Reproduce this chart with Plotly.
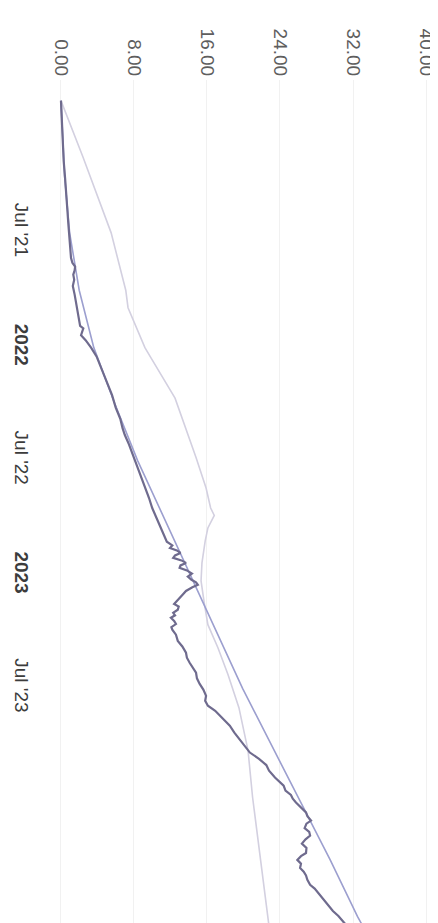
import plotly.graph_objects as go

# ---- data ----
actual_dates = [
    "2020-12-01", "2020-12-20", "2021-01-15", "2021-02-10", "2021-03-08", "2021-04-04",
    "2021-05-01", "2021-05-25", "2021-06-15", "2021-07-05", "2021-07-25", "2021-08-10",
    "2021-08-18", "2021-08-24", "2021-08-30", "2021-09-06", "2021-09-14", "2021-09-24",
    "2021-10-08", "2021-10-29", "2021-11-12", "2021-11-27", "2021-12-01", "2021-12-06",
    "2021-12-12", "2021-12-20", "2022-01-01", "2022-01-15", "2022-02-02", "2022-02-15",
    "2022-03-02", "2022-03-18", "2022-04-07", "2022-04-25", "2022-05-10", "2022-05-21",
    "2022-06-05", "2022-06-22", "2022-07-08", "2022-07-24", "2022-08-10", "2022-08-30",
    "2022-09-15", "2022-10-06", "2022-10-18", "2022-10-30", "2022-11-08", "2022-11-14",
    "2022-11-18", "2022-11-22", "2022-11-26", "2022-11-30", "2022-12-04", "2022-12-08",
    "2022-12-12", "2022-12-16", "2022-12-20", "2022-12-24", "2022-12-29", "2023-01-03",
    "2023-01-08", "2023-01-12", "2023-01-16", "2023-01-20", "2023-01-26", "2023-01-31",
    "2023-02-06", "2023-02-11", "2023-02-16", "2023-02-20", "2023-02-25", "2023-03-02",
    "2023-03-06", "2023-03-10", "2023-03-15", "2023-03-20", "2023-03-25", "2023-03-29",
    "2023-04-06", "2023-04-16", "2023-04-25", "2023-05-05", "2023-05-13", "2023-05-21",
    "2023-05-29", "2023-06-06", "2023-06-15", "2023-06-24", "2023-07-03", "2023-07-13",
    "2023-07-21", "2023-07-29", "2023-08-06", "2023-08-14", "2023-08-22", "2023-08-30",
    "2023-09-10", "2023-09-23", "2023-10-02", "2023-10-12", "2023-10-22", "2023-11-01",
    "2023-11-10", "2023-11-21", "2023-12-04", "2023-12-12", "2023-12-19", "2023-12-25",
    "2023-12-31", "2024-01-08", "2024-01-16", "2024-01-22", "2024-01-29", "2024-02-03",
    "2024-02-10", "2024-02-16", "2024-02-22", "2024-02-28", "2024-03-06", "2024-03-13",
    "2024-03-21", "2024-03-26", "2024-04-01", "2024-04-07", "2024-04-14", "2024-04-20",
    "2024-04-26", "2024-05-03", "2024-05-11", "2024-05-17", "2024-05-24", "2024-05-30",
    "2024-06-06", "2024-06-14", "2024-06-22", "2024-06-30", "2024-07-08", "2024-07-16",
    "2024-07-24", "2024-08-12",
]
actual_values = [
    0.0, 0.05, 0.1, 0.2, 0.3, 0.45,
    0.55, 0.7, 0.8, 0.9, 1.0, 1.1,
    1.25, 1.55, 1.5, 1.35, 1.45, 1.3,
    1.5, 1.75, 1.95, 2.1, 2.45, 2.3,
    2.2, 2.7, 3.3, 3.9, 4.4, 4.75,
    5.15, 5.6, 6.0, 6.5, 6.75, 7.0,
    7.45, 7.9, 8.3, 8.75, 9.2, 9.65,
    10.0, 10.6, 10.95, 11.3, 11.6, 12.2,
    11.95, 12.7, 13.1, 12.5, 12.3, 13.2,
    13.7, 13.1, 13.0, 13.8, 14.35, 13.9,
    14.3, 14.8, 15.0, 14.4, 13.7, 13.4,
    13.0, 12.7, 12.4, 12.9, 12.8, 12.3,
    12.5, 12.05, 12.4, 12.6, 12.1, 12.2,
    12.6, 12.8, 13.3, 13.7, 13.8, 14.1,
    14.5, 14.8, 14.9, 15.2, 15.6, 15.9,
    15.8, 16.1, 16.9, 17.4, 17.9, 18.5,
    19.0, 19.7, 20.1, 20.7, 21.7, 22.5,
    22.8, 23.45, 24.4, 24.6, 25.2, 25.4,
    25.75, 26.3, 26.85, 27.0, 27.4, 26.9,
    26.7, 27.2, 27.3, 26.8, 26.4, 26.9,
    26.85, 26.3, 25.9, 26.3, 26.2, 26.6,
    26.85, 27.0, 27.3, 27.8, 28.2, 28.5,
    28.9, 29.3, 29.8, 30.4, 30.9, 31.3,
    31.8, 32.5,
]

trend_dates = [
    "2020-12-01", "2021-04-01", "2021-07-01", "2021-10-01", "2022-01-01", "2022-04-01",
    "2022-07-01", "2022-10-01", "2023-01-01", "2023-04-01", "2023-07-01", "2023-10-01",
    "2024-01-01", "2024-04-01", "2024-07-01", "2024-08-15",
]
trend_values = [
    0.0, 0.4, 0.95, 2.0, 3.6, 5.9,
    8.4, 11.3, 14.2, 17.1, 19.9, 23.1,
    26.3, 29.5, 32.5, 34.2,
]

other_dates = [
    "2020-12-01", "2021-03-01", "2021-07-01", "2021-10-01", "2021-10-29", "2022-01-01",
    "2022-01-17", "2022-03-23", "2022-06-26", "2022-08-14", "2022-09-15", "2022-09-27",
    "2022-10-17", "2022-11-07", "2022-12-12", "2023-01-10", "2023-02-14", "2023-03-21",
    "2023-04-27", "2023-06-09", "2023-08-01", "2023-10-09", "2023-12-23", "2024-03-01",
    "2024-05-16", "2024-07-24", "2024-08-20",
]
other_values = [
    0.0, 2.4, 5.5, 7.1, 7.35, 9.2,
    9.85, 12.5, 14.8, 15.9, 16.4, 16.8,
    16.1, 15.8, 15.45, 15.35, 15.7, 16.1,
    17.2, 18.3, 19.5, 20.5, 21.0, 21.6,
    22.25, 22.9, 23.1,
]

value_ticks = [0, 8, 16, 24, 32, 40]
date_ticks = ["2021-07-01", "2022-01-01", "2022-07-01", "2023-01-01", "2023-07-01"]
date_labels = ["Jul '21", "<b>2022</b>", "Jul '22", "<b>2023</b>", "Jul '23"]

FONT = "Liberation Sans, Arial, sans-serif"

fig = go.Figure()
fig.add_trace(go.Scatter(x=other_values, y=other_dates, mode="lines",
                         line=dict(color="#d3d0e0", width=1.6), hoverinfo="skip"))
fig.add_trace(go.Scatter(x=trend_values, y=trend_dates, mode="lines",
                         line=dict(color="#9c9fcf", width=1.6), hoverinfo="skip"))
fig.add_trace(go.Scatter(x=actual_values, y=actual_dates, mode="lines",
                         line=dict(color="#6f6b8e", width=2.2), hoverinfo="skip"))

fig.update_layout(
    width=438, height=923,
    margin=dict(l=40, r=0, t=72, b=0),
    paper_bgcolor="white", plot_bgcolor="white",
    showlegend=False,
    font=dict(family=FONT, size=19, color="#5a5a5a"),
)
fig.update_xaxes(
    side="top", range=[-1.42, 42.19],
    tickvals=value_ticks, tickformat=".2f", tickangle=90,
    showgrid=True, gridcolor="#f1f1f1", gridwidth=1,
    zeroline=False, showline=False, ticks="",
    tickfont=dict(family=FONT, size=19, color="#5e5e5e"),
)
fig.update_yaxes(
    type="date", range=["2024-07-24", "2020-10-29"],
    tickvals=date_ticks, ticktext=date_labels, tickangle=90,
    ticklabelstandoff=13,
    showgrid=False, zeroline=False, showline=False, ticks="",
    tickfont=dict(family=FONT, size=19, color="#3c3c3c"),
)

fig.write_html("out.html")
